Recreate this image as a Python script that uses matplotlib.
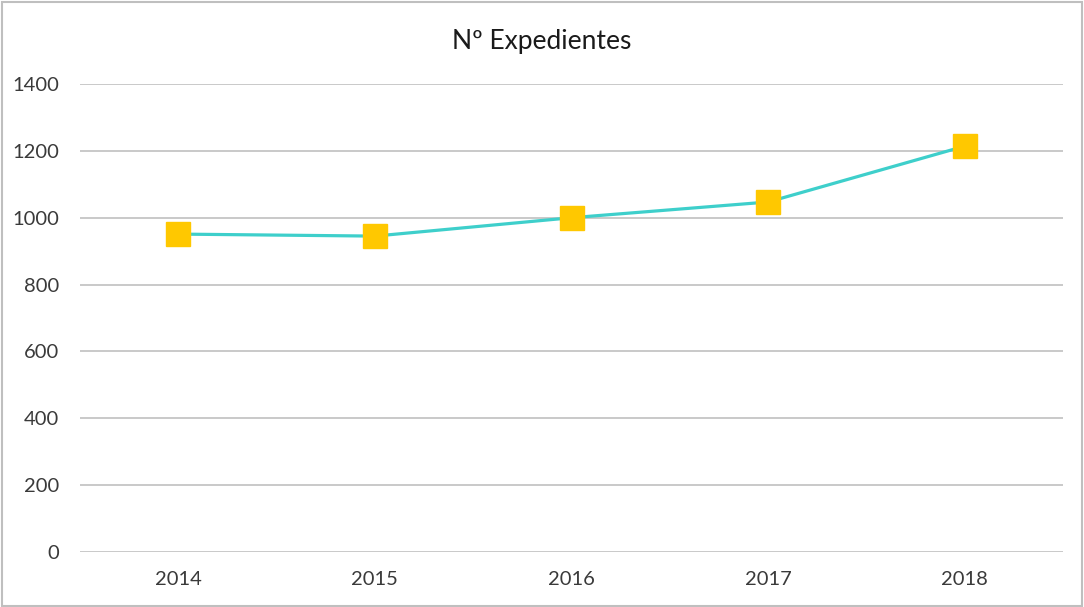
import numpy as np
import matplotlib.pyplot as plt
from matplotlib.patches import Rectangle

# data
years = ['2014', '2015', '2016', '2017', '2018']
expedientes = [951, 945, 1000, 1047, 1214]
yticks = [0, 200, 400, 600, 800, 1000, 1200, 1400]

plt.rcParams['font.family'] = ['Lato', 'DejaVu Sans']

fig = plt.figure(figsize=(10.84, 6.07), dpi=100)
ax = fig.add_axes([80/1084, 1-552/607, 983/1084, 468/607])

x = np.arange(len(years))
ax.plot(x, expedientes, color='#3ECFCB', lw=2.3, zorder=3)
ax.plot(x, expedientes, ls='none', marker='s', ms=17, mfc='#FFC800', mec='#FFC800', zorder=4)

ax.set_xlim(-0.5, len(years)-0.5)
ax.set_ylim(0, 1400)
ax.set_yticks(yticks)
ax.set_xticks(x)
ax.set_xticklabels(years)
ax.grid(axis='y', color='#C0C0C0', lw=1.2)
ax.set_axisbelow(True)
for s in ax.spines.values():
    s.set_visible(False)
ax.tick_params(length=0, labelsize=14.5, colors='#3a3a3a', pad=15)
ax.tick_params(axis='x', pad=14)

fig.text(0.5, 1-41/607, 'Nº Expedientes', ha='center', va='center', fontsize=19, color='#1a1a1a')

# chart border
fig.patches.append(Rectangle((0.002, 0.002), 0.996, 0.995, transform=fig.transFigure,
                             fill=False, ec='#BFBFBF', lw=1.5))

fig.savefig('out.png', dpi=100)
